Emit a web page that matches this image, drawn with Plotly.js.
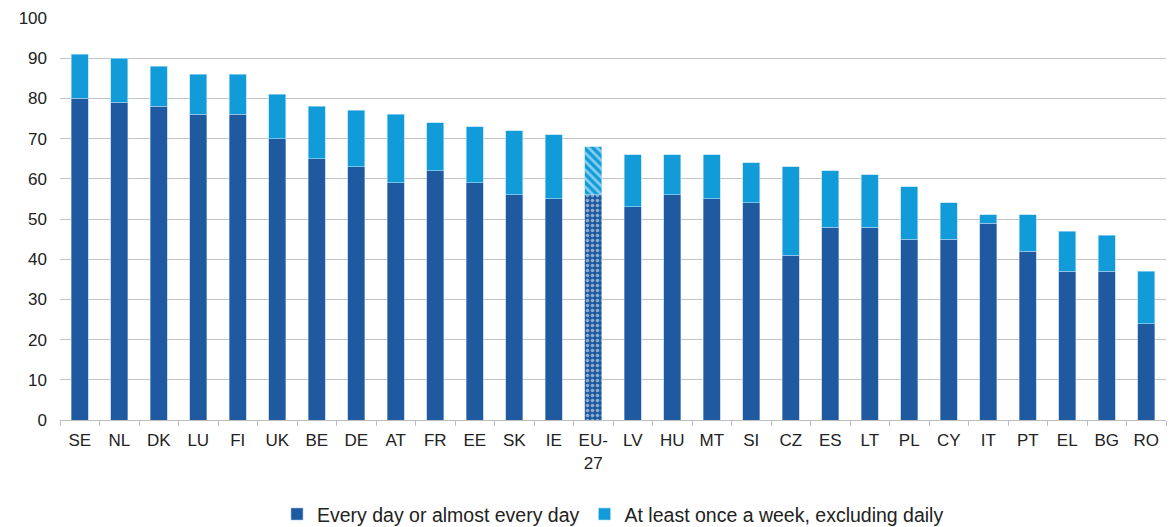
<!DOCTYPE html>
<html>
<head>
<meta charset="utf-8">
<script src="https://cdn.plot.ly/plotly-3.0.1.min.js"></script>
<style>html,body{margin:0;padding:0;background:#fff}#chart{width:1175px;height:527px}</style>
</head>
<body>
<div id="chart"></div>
<script>
const countries = ["SE","NL","DK","LU","FI","UK","BE","DE","AT","FR","EE","SK","IE","EU-<br>27","LV","HU","MT","SI","CZ","ES","LT","PL","CY","IT","PT","EL","BG","RO"];
const daily  = [80,79,78,76,76,70,65,63,59,62,59,56,55,56,53,56,55,54,41,48,48,45,45,49,42,37,37,24];
const weekly = [11,11,10,10,10,11,13,14,17,12,14,16,16,12,13,10,11,10,22,14,13,13,9,2,9,10,9,13];
const seriesNames = ["Every day or almost every day","At least once a week, excluding daily"];

const euIndex = countries.indexOf("EU-<br>27");
const dailyPattern = countries.map((c,i)=> i===euIndex ? "." : "");
const weeklyPattern = countries.map((c,i)=> i===euIndex ? "\\" : "");

const darkBlue = "#1F5AA0";
const lightBlue = "#119BD9";

const traces = [
  {type:"bar", name:seriesNames[0], x:countries, y:daily,
   marker:{color:darkBlue, line:{color:"rgba(160,190,230,0.7)", width:0.8},
     pattern:{shape:dailyPattern, fillmode:"overlay", fgcolor:"#ffffff", size:5, solidity:0.4}}},
  {type:"bar", name:seriesNames[1], x:countries, y:weekly,
   marker:{color:lightBlue, line:{color:"rgba(170,220,245,0.8)", width:0.8},
     pattern:{shape:weeklyPattern, fillmode:"overlay", fgcolor:"#ffffff", size:6, solidity:0.45}}}
];

const layout = {
  barmode:"stack",
  bargap:0.58,
  width:1175, height:527,
  margin:{l:60, r:9, t:18, b:107, autoexpand:false},
  paper_bgcolor:"#fff", plot_bgcolor:"#fff",
  font:{family:"Liberation Sans, Arial, sans-serif", size:17, color:"#222"},
  xaxis:{type:"category", showline:true, linecolor:"#BDBDBD", linewidth:1,
    ticks:"outside", tickson:"boundaries", ticklen:5, tickcolor:"#BDBDBD",
    showgrid:false, ticklabelstandoff:5, tickfont:{size:17, color:"#222"}, automargin:false},
  yaxis:{range:[0,100], dtick:10, showgrid:true, gridcolor:"#C4C4C4", gridwidth:1,
    zeroline:false, showline:false, ticks:"", ticklabelstandoff:12, tickfont:{size:17, color:"#222"}, automargin:false},
  showlegend:true,
  legend:{orientation:"h", x:0.5, xanchor:"center", yref:"container", y:0.024, yanchor:"middle",
    font:{size:19.5, color:"#222"}, traceorder:"normal", itemwidth:30}
};

Plotly.newPlot("chart", traces, layout, {displayModeBar:false, staticPlot:true});
</script>
</body>
</html>
